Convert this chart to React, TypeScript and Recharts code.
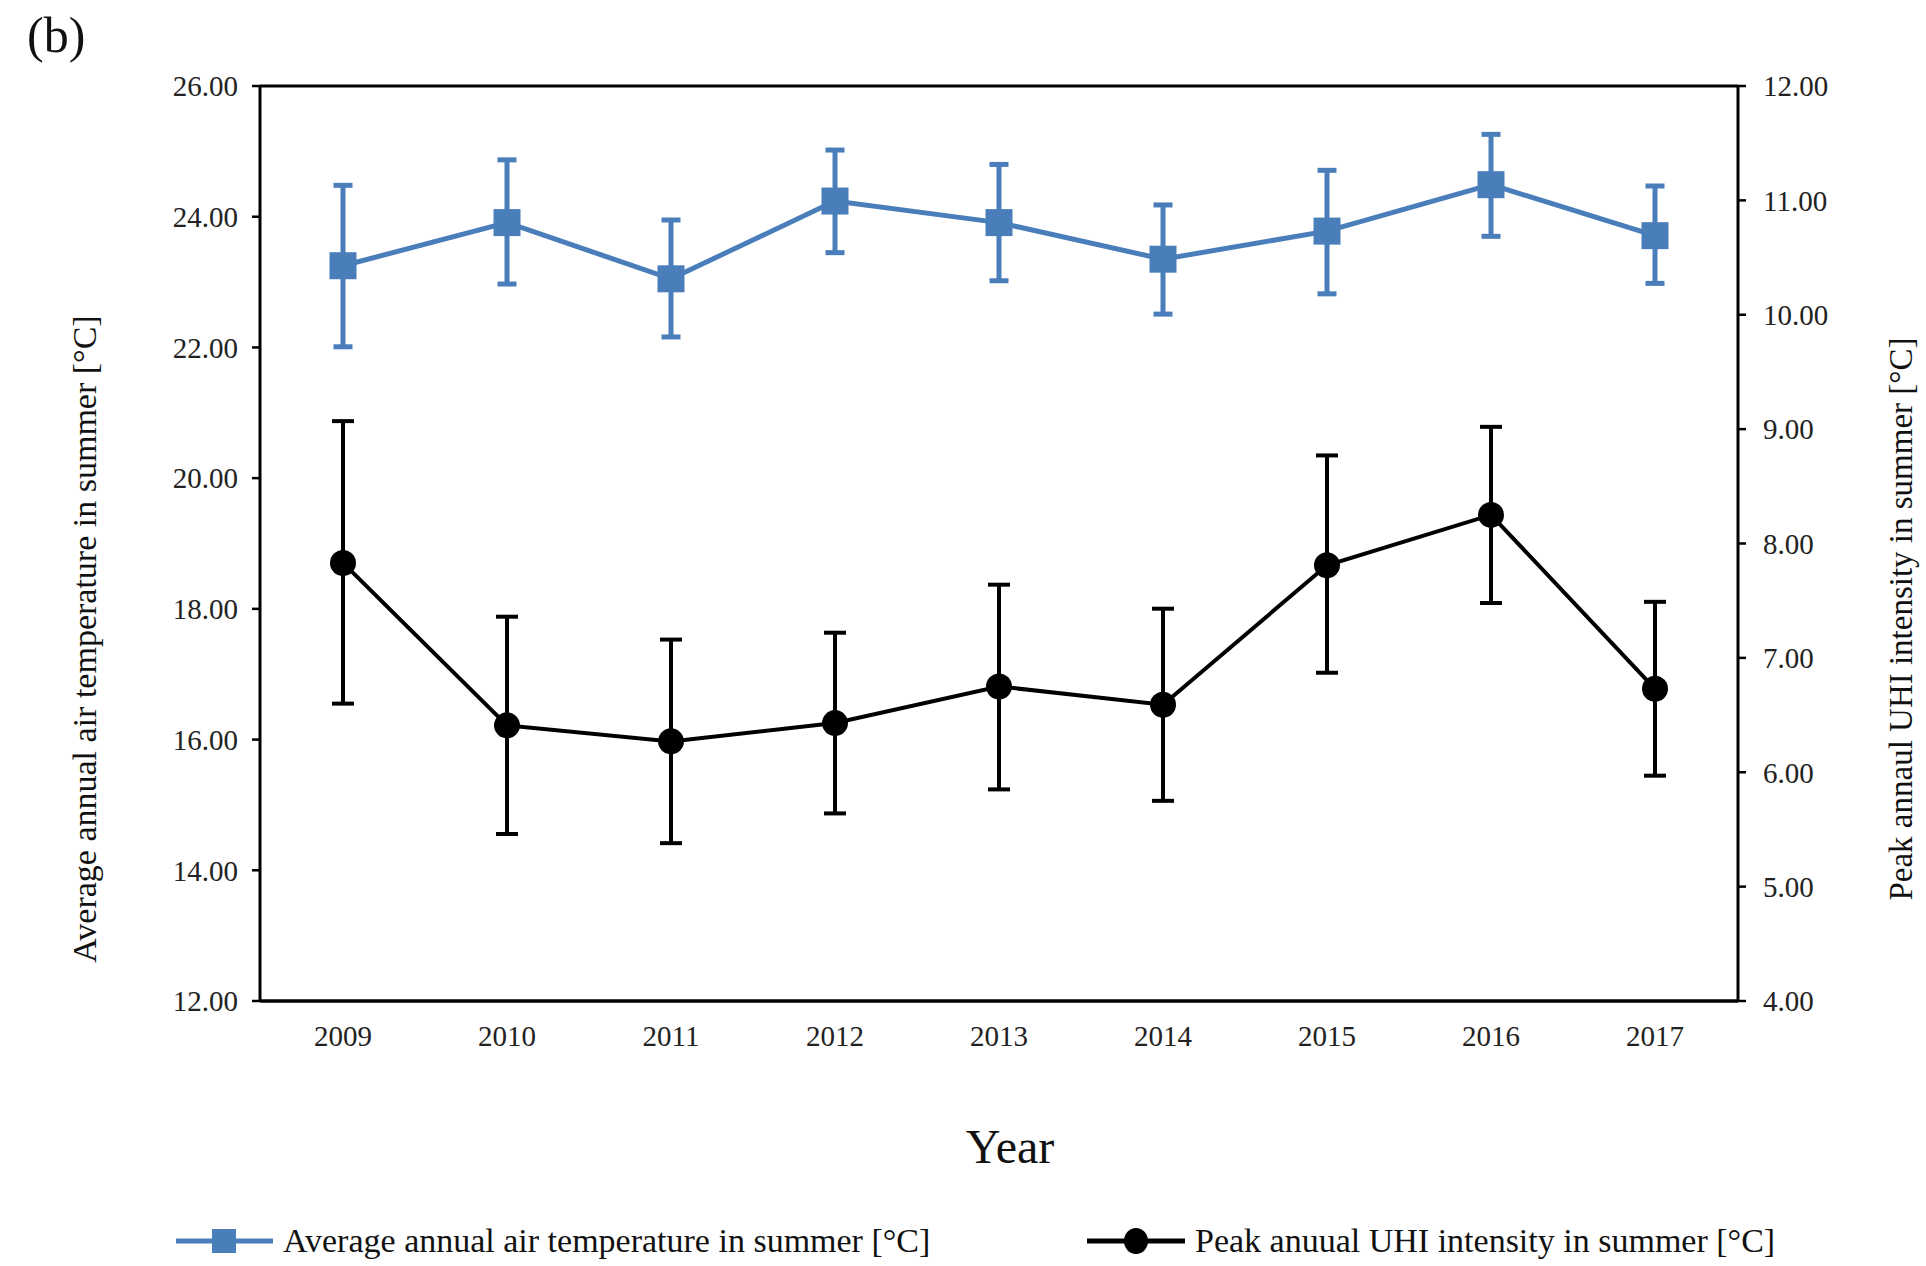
import React from 'react';
import { ComposedChart, Line, XAxis, YAxis, ErrorBar, ReferenceLine, Label } from 'recharts';

const years = ['2009', '2010', '2011', '2012', '2013', '2014', '2015', '2016', '2017'];

// Average annual air temperature in summer (left axis)
const tempMean = [23.25, 23.91, 23.05, 24.24, 23.91, 23.35, 23.78, 24.49, 23.71];
const tempHigh = [24.48, 24.87, 23.95, 25.02, 24.8, 24.18, 24.71, 25.26, 24.47];
const tempLow = [22.01, 22.97, 22.16, 23.45, 23.02, 22.51, 22.82, 23.7, 22.98];

// Peak annual UHI intensity in summer (right axis)
const uhiMean = [7.83, 6.41, 6.27, 6.43, 6.75, 6.59, 7.81, 8.25, 6.73];
const uhiHigh = [9.07, 7.36, 7.16, 7.22, 7.64, 7.43, 8.77, 9.02, 7.49];
const uhiLow = [6.6, 5.46, 5.38, 5.64, 5.85, 5.75, 6.87, 7.48, 5.97];

const leftTicks = [12, 14, 16, 18, 20, 22, 24, 26];
const rightTicks = [4, 5, 6, 7, 8, 9, 10, 11, 12];

const leftTitle = 'Average annual air temperature in summer [°C]';
const rightTitle = 'Peak annaul UHI intensity in summer [°C]';
const xTitle = 'Year';
const legendTemp = 'Average annual air temperature in summer [°C]';
const legendUhi = 'Peak anuual UHI intensity in summer [°C]';
const panelTag = '(b)';

const data = years.map((year, i) => ({
  year,
  temp: tempMean[i],
  tempErr: [tempMean[i] - tempLow[i], tempHigh[i] - tempMean[i]],
  uhi: uhiMean[i],
  uhiErr: [uhiMean[i] - uhiLow[i], uhiHigh[i] - uhiMean[i]],
}));

const BLUE = '#4a7ebb';
const BLACK = '#000000';
const FONT = '"Liberation Serif", "Times New Roman", serif';
const TICK_FILL = '#222222';

const SquareDot = (props: any) => {
  const { cx, cy, index } = props;
  if (cx == null || cy == null) return null;
  return <rect key={`sq-${index}`} x={cx - 13.5} y={cy - 13.5} width={27} height={27} fill={BLUE} />;
};

const CircleDot = (props: any) => {
  const { cx, cy, index } = props;
  if (cx == null || cy == null) return null;
  return <ellipse key={`ci-${index}`} cx={cx} cy={cy} rx={13} ry={13} fill={BLACK} />;
};

const fmt = (v: number) => v.toFixed(2);

export default function App() {
  return (
    <div style={{ position: 'absolute', left: 0, top: 0, width: 1926, height: 1266, background: '#fff', fontFamily: FONT }}>
      <ComposedChart
        width={1926}
        height={1266}
        data={data}
        margin={{ top: 86, right: 48, bottom: 205, left: 100 }}
        style={{ fontFamily: FONT }}
      >
        <XAxis
          dataKey="year"
          xAxisId="x"
          height={60}
          padding={{ left: 83, right: 83 }}
          tickLine={false}
          tickSize={0}
          tickMargin={24}
          axisLine={{ stroke: BLACK, strokeWidth: 3.5 }}
          tick={{ fontSize: 29, fill: TICK_FILL, fontFamily: FONT }}
          interval={0}
        />
        <YAxis
          yAxisId="left"
          orientation="left"
          width={160}
          domain={[12, 26]}
          ticks={leftTicks}
          interval={0}
          allowDataOverflow
          tickFormatter={fmt}
          tickSize={8}
          tickMargin={14}
          tickLine={{ stroke: BLACK, strokeWidth: 2.5 }}
          axisLine={{ stroke: BLACK, strokeWidth: 3 }}
          tick={{ fontSize: 29, fill: TICK_FILL, fontFamily: FONT }}
        >
          <Label
            content={() => (
              <text
                x={96}
                y={639}
                transform="rotate(-90 96 639)"
                textAnchor="middle"
                fontSize={34}
                fill="#111"
                fontFamily={FONT}
              >
                {leftTitle}
              </text>
            )}
          />
        </YAxis>
        <YAxis
          yAxisId="right"
          orientation="right"
          width={140}
          domain={[4, 12]}
          ticks={rightTicks}
          interval={0}
          allowDataOverflow
          tickFormatter={fmt}
          tickSize={8}
          tickMargin={17}
          tickLine={{ stroke: BLACK, strokeWidth: 2.5 }}
          axisLine={{ stroke: BLACK, strokeWidth: 3 }}
          tick={{ fontSize: 29, fill: TICK_FILL, fontFamily: FONT }}
        >
          <Label
            content={() => (
              <text
                x={1912}
                y={619}
                transform="rotate(-90 1912 619)"
                textAnchor="middle"
                fontSize={33}
                fill="#111"
                fontFamily={FONT}
              >
                {rightTitle}
              </text>
            )}
          />
        </YAxis>
        <ReferenceLine yAxisId="left" xAxisId="x" y={26} stroke={BLACK} strokeWidth={3} ifOverflow="visible" />
        <Line
          yAxisId="left"
          xAxisId="x"
          dataKey="temp"
          stroke={BLUE}
          strokeWidth={5}
          dot={SquareDot}
          activeDot={false}
          isAnimationActive={false}
        >
          <ErrorBar dataKey="tempErr" direction="y" width={9.5} strokeWidth={5} stroke={BLUE} isAnimationActive={false} />
        </Line>
        <Line
          yAxisId="right"
          xAxisId="x"
          dataKey="uhi"
          stroke={BLACK}
          strokeWidth={4}
          dot={CircleDot}
          activeDot={false}
          isAnimationActive={false}
        >
          <ErrorBar dataKey="uhiErr" direction="y" width={11} strokeWidth={4} stroke={BLACK} isAnimationActive={false} />
        </Line>
      </ComposedChart>
      <svg
        width={1926}
        height={1266}
        style={{ position: 'absolute', left: 0, top: 0, pointerEvents: 'none' }}
      >
        <text x={27} y={52} fontSize={50} fill="#111" fontFamily={FONT}>
          {panelTag}
        </text>
        <text x={1010} y={1163} fontSize={48} fill="#111" fontFamily={FONT} textAnchor="middle">
          {xTitle}
        </text>
        <line x1={176} x2={273} y1={1241} y2={1241} stroke={BLUE} strokeWidth={5} />
        <rect x={212} y={1229} width={24} height={24} fill={BLUE} />
        <text x={283} y={1241} dy="0.33em" fontSize={34} fill="#111" fontFamily={FONT}>
          {legendTemp}
        </text>
        <line x1={1087} x2={1185} y1={1241} y2={1241} stroke={BLACK} strokeWidth={5} />
        <ellipse cx={1136} cy={1241} rx={12} ry={13} fill={BLACK} />
        <text x={1195} y={1241} dy="0.33em" fontSize={34} fill="#111" fontFamily={FONT}>
          {legendUhi}
        </text>
      </svg>
    </div>
  );
}
